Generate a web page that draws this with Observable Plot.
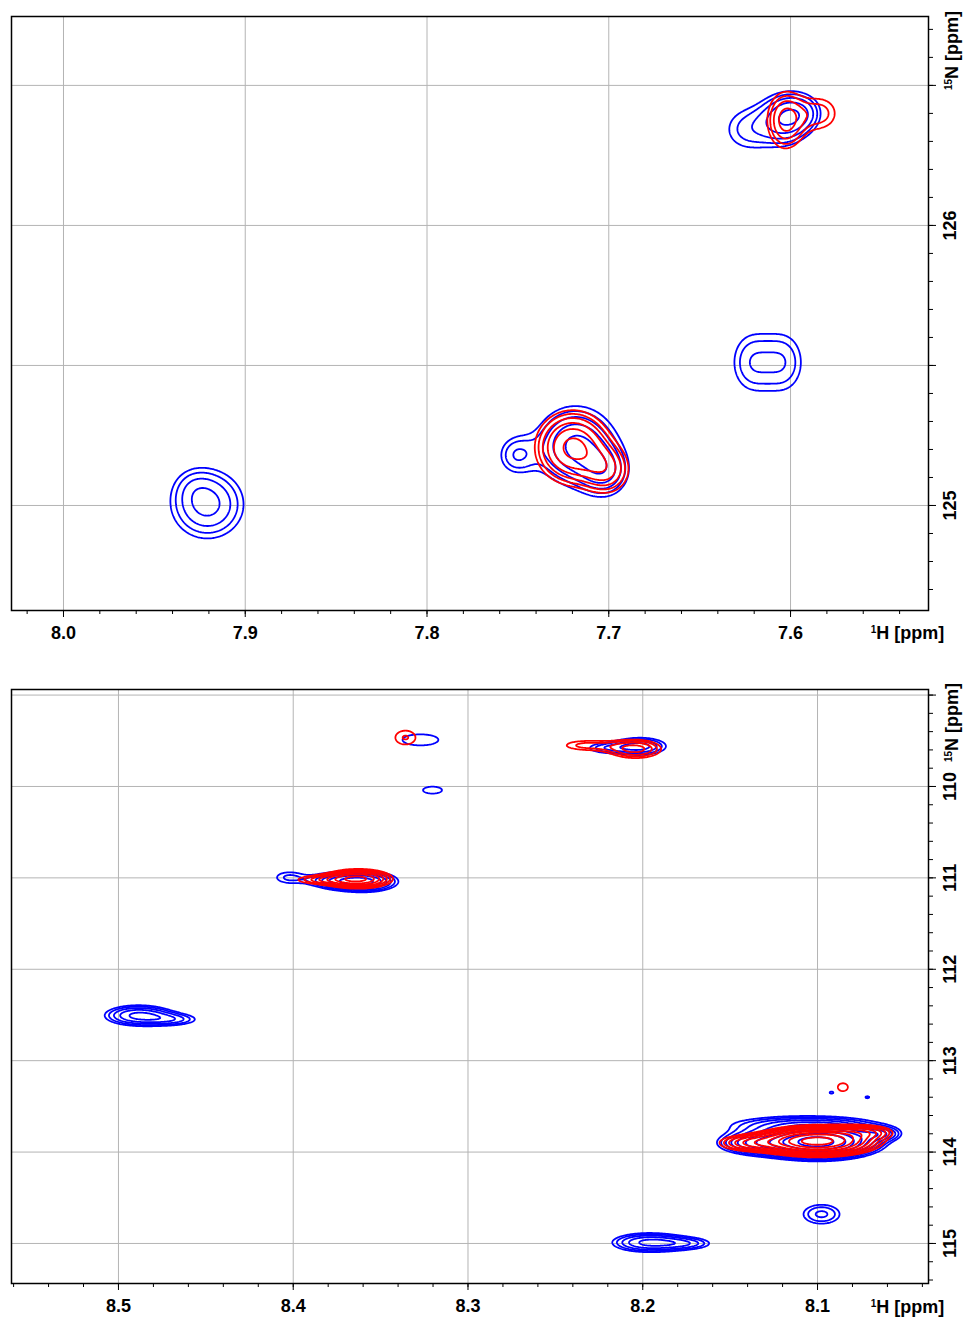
<!DOCTYPE html>
<html>
<head>
<meta charset="utf-8">
<script src="https://cdn.jsdelivr.net/npm/d3@7"></script>
<script src="https://cdn.jsdelivr.net/npm/@observablehq/plot@0.6"></script>
<style>
  body { margin: 0; background: #fff; }
  #chart svg { display: block; }
</style>
</head>
<body>
<div id="chart"></div>
<script>
// Peak tables: [1H ppm, 15N ppm, line width 1H, line width 15N, height]
const upperBlue = [
  [7.9208, 125.004, 0.0150, 0.092, 2.4],
  [7.9290, 125.075, 0.0080, 0.050, 0.35],
  [7.6221, 125.511, 0.0095, 0.093, 1.5],
  [7.6031, 125.511, 0.0095, 0.093, 1.5],
  [7.7183, 125.214, 0.0150, 0.095, 3.0],
  [7.7018, 125.118, 0.0095, 0.065, 1.8],
  [7.7513, 125.179, 0.0080, 0.055, 1.5],
  [7.6028, 126.382, 0.0095, 0.065, 2.4],
  [7.5917, 126.404, 0.0080, 0.050, 1.2],
  [7.6237, 126.343, 0.0120, 0.070, 1.4]
];
const upperRed = [
  [7.7199, 125.207, 0.0125, 0.080, 4.0],
  [7.7007, 125.125, 0.0090, 0.060, 2.0],
  [7.6028, 126.375, 0.0075, 0.075, 2.4],
  [7.5835, 126.400, 0.0090, 0.055, 1.45]
];
const lowerBlue = [
  [8.4886, 112.505, 0.0130, 0.075, 3.0],
  [8.4680, 112.550, 0.0114, 0.050, 1.5],
  [8.1967, 114.990, 0.0140, 0.070, 3.0],
  [8.1740, 115.000, 0.0114, 0.050, 1.5],
  [8.0977, 114.680, 0.0095, 0.095, 1.8],
  [8.1000, 113.890, 0.0180, 0.095, 12],
  [8.1080, 113.700, 0.0300, 0.070, 2.2],
  [8.1360, 113.900, 0.0140, 0.080, 3.0],
  [8.0645, 113.800, 0.0080, 0.050, 2.2],
  [8.0920, 113.350, 0.0030, 0.030, 1.08],
  [8.0715, 113.400, 0.0030, 0.030, 1.08],
  [8.3598, 111.040, 0.0120, 0.070, 4.0],
  [8.3780, 111.030, 0.0100, 0.060, 1.8],
  [8.4027, 110.995, 0.0085, 0.070, 1.33],
  [8.3272, 109.490, 0.0170, 0.100, 1.2],
  [8.3203, 110.040, 0.0103, 0.072, 1.15],
  [8.2013, 109.560, 0.0110, 0.070, 2.4],
  [8.2220, 109.580, 0.0100, 0.050, 1.3]
];
const lowerRed = [
  [8.1000, 113.880, 0.0170, 0.080, 12],
  [8.1380, 113.900, 0.0130, 0.060, 2.5],
  [8.0740, 113.780, 0.0110, 0.050, 2.5],
  [8.0855, 113.290, 0.0043, 0.065, 1.25],
  [8.3627, 111.010, 0.0110, 0.060, 5.0],
  [8.3840, 111.020, 0.0130, 0.040, 1.6],
  [8.3358, 109.465, 0.0076, 0.100, 1.33],
  [8.2041, 109.590, 0.0110, 0.075, 2.4],
  [8.2328, 109.550, 0.0130, 0.055, 1.4]
];

// Axis ticks and labels
const upperHTicks = [8.0, 7.9, 7.8, 7.7, 7.6];
const upperHMinor = d3.range(377, 402).map(k => k / 50);
const upperNGrid = [125, 125.5, 126, 126.5];
const upperNMinor = d3.range(1247, 1268).map(k => k / 10);
const upperNLabels = [125, 126];
const lowerHTicks = [8.5, 8.4, 8.3, 8.2, 8.1];
const lowerHMinor = d3.range(402, 429).map(k => k / 50);
const lowerNGrid = [109, 110, 111, 112, 113, 114, 115];
const lowerNMinor = d3.range(545, 578).map(k => k / 5);
const lowerNLabels = [110, 111, 112, 113, 114, 115];
const labelH = "¹H [ppm]";
const labelN = "¹⁵N [ppm]";

// Contour levels: geometric series above the noise floor
const contourBase = 1, contourFactor = 1.3, contourCount = 14;
const contourLevels = d3.range(contourCount).map(k => contourBase * contourFactor ** k);

// Sum of 2D Gaussian lines for one spectrum
function spectrum(peaks) {
  return (h, n) => {
    let v = 0;
    for (const [ph, pn, wh, wn, a] of peaks) {
      const u = (h - ph) / wh, w = (n - pn) / wn;
      const e = 0.5 * (u * u + w * w);
      if (e < 40) v += a * Math.exp(-e);
    }
    return v;
  };
}

function panel(o) {
  const grid = {stroke: "#b4b4b4", strokeOpacity: 1, strokeWidth: 1};
  const contour = (peaks, color) => Plot.contour({
    x1: o.xDomain[0], x2: o.xDomain[1], y1: o.yDomain[0], y2: o.yDomain[1],
    value: spectrum(peaks), thresholds: contourLevels,
    stroke: color, strokeWidth: 1.8, fill: "none", pixelSize: 1
  });
  return Plot.plot({
    width: 971, height: o.height,
    marginLeft: 11, marginRight: 43, marginTop: o.marginTop, marginBottom: o.marginBottom,
    x: {domain: o.xDomain},
    y: {domain: o.yDomain, reverse: o.yReverse},
    style: {fontFamily: "'Liberation Sans', Arial, sans-serif", fontSize: "18px", fontWeight: "bold", color: "black", background: "white"},
    marks: [
      Plot.gridX(o.xTicks, grid),
      Plot.gridY(o.yGrid, grid),
      contour(o.blue, "#0000ff"),
      contour(o.red, "#ff0000"),
      Plot.frame({stroke: "black", strokeWidth: 1.5}),
      Plot.axisX(o.xMinor, {anchor: "bottom", tickSize: 4, tickFormat: () => "", label: null}),
      Plot.axisX(o.xTicks, {anchor: "bottom", tickSize: 7, tickPadding: 9, tickFormat: d3.format(".1f"), label: null}),
      Plot.axisY(o.yMinor, {anchor: "right", tickSize: 4, tickFormat: () => "", label: null}),
      Plot.axisY(o.yGrid, {anchor: "right", tickSize: 7, tickFormat: () => "", label: null}),
      Plot.text(o.yLabels, {y: d => d, text: d => String(d), frameAnchor: "right", dx: 22, rotate: -90, textAnchor: "middle", lineAnchor: "middle"}),
      Plot.text([labelN], {text: d => d, frameAnchor: "top-right", dx: 24, dy: o.nLabelDy, rotate: -90, textAnchor: "middle", lineAnchor: "middle"}),
      Plot.text([labelH], {text: d => d, frameAnchor: "bottom-right", dx: -21, dy: o.hLabelDy, textAnchor: "middle", lineAnchor: "middle"})
    ]
  });
}

const chart = document.getElementById("chart");
chart.append(panel({
  height: 655, marginTop: 16, marginBottom: 45,
  xDomain: [8.0286, 7.5241], yDomain: [124.625, 126.746], yReverse: false,
  xTicks: upperHTicks, xMinor: upperHMinor, yGrid: upperNGrid, yMinor: upperNMinor, yLabels: upperNLabels,
  blue: upperBlue, red: upperRed, nLabelDy: 34, hLabelDy: 23
}));
chart.append(panel({
  height: 667, marginTop: 34, marginBottom: 39,
  xDomain: [8.5612, 8.0365], yDomain: [108.939, 115.438], yReverse: true,
  xTicks: lowerHTicks, xMinor: lowerHMinor, yGrid: lowerNGrid, yMinor: lowerNMinor, yLabels: lowerNLabels,
  blue: lowerBlue, red: lowerRed, nLabelDy: 33, hLabelDy: 24
}));

// Render the isotope numbers in the axis titles as superscripts
for (const t of chart.querySelectorAll("text")) {
  const m = /^([¹⁵]+)(.*)$/.exec(t.textContent);
  if (!m) continue;
  const sup = m[1].replace(/¹/g, "1").replace(/⁵/g, "5");
  t.textContent = "";
  const s = document.createElementNS("http://www.w3.org/2000/svg", "tspan");
  s.setAttribute("font-size", "10px");
  s.setAttribute("baseline-shift", "6");
  s.textContent = sup;
  const r = document.createElementNS("http://www.w3.org/2000/svg", "tspan");
  r.textContent = m[2];
  t.append(s, r);
}
</script>
</body>
</html>
